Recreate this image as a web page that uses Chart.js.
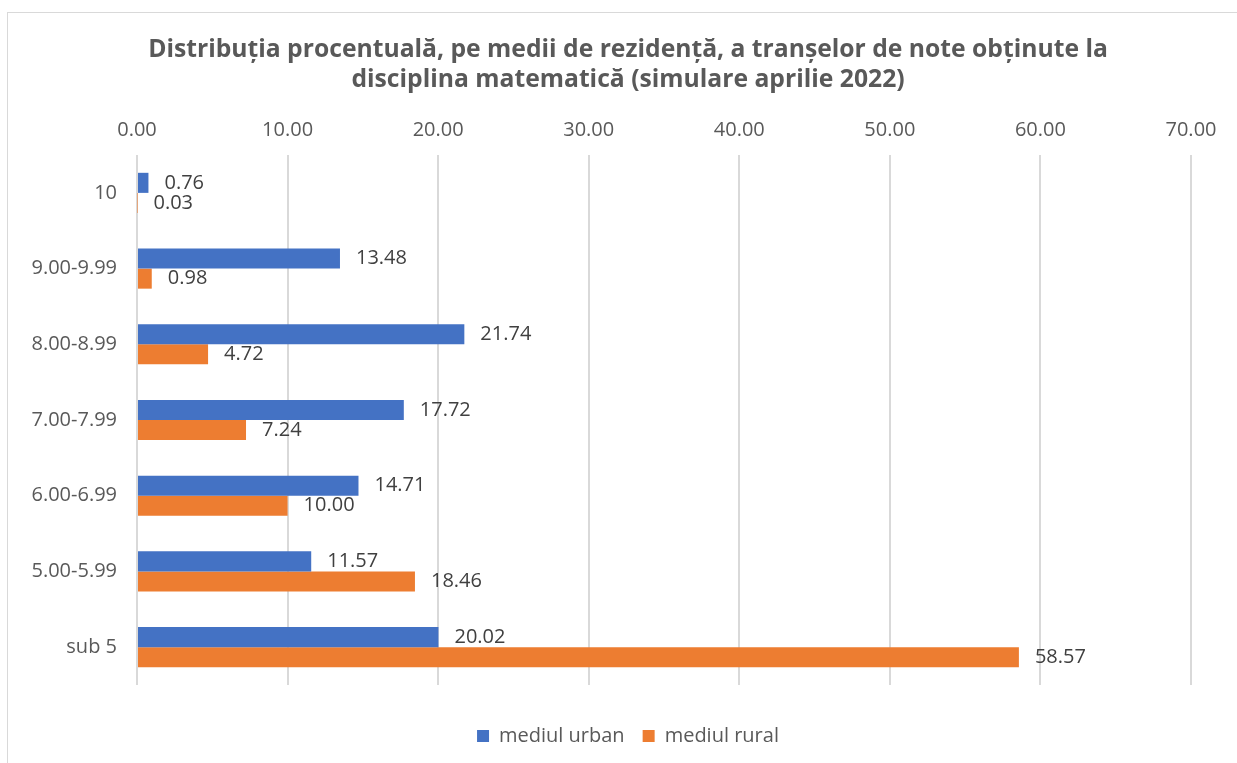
<!DOCTYPE html>
<html>
<head>
<meta charset="utf-8">
<script src="https://cdn.jsdelivr.net/npm/chart.js@4.4.0/dist/chart.umd.min.js"></script>
<style>
  html, body { margin: 0; padding: 0; background: #fff; }
  #frame {
    position: absolute; left: 7px; top: 12px; width: 1300px; height: 800px;
    border-left: 1px solid #d9d9d9; border-top: 1px solid #d9d9d9;
  }
  #wrap { position: absolute; left: 0; top: 0; width: 1237px; height: 763px; }
</style>
</head>
<body>
<div id="frame"></div>
<div id="wrap"><canvas id="gradesChart"></canvas></div>
<script>
  // Data
  const categories = ["10", "9.00-9.99", "8.00-8.99", "7.00-7.99", "6.00-6.99", "5.00-5.99", "sub 5"];
  const urbanValues = [0.76, 13.48, 21.74, 17.72, 14.71, 11.57, 20.02];
  const ruralValues = [0.03, 0.98, 4.72, 7.24, 10.00, 18.46, 58.57];
  const seriesNames = ["mediul urban", "mediul rural"];
  const titleLines = [
    "Distribuția procentuală, pe medii de rezidență, a tranșelor de note obținute la",
    "disciplina matematică (simulare aprilie 2022)"
  ];

  const FONT = "'Open Sans', 'Noto Sans', sans-serif";

  // value labels at the end of each bar + category labels left of the plot
  const barLabels = {
    id: "barLabels",
    afterDatasetsDraw(chart) {
      const ctx = chart.ctx;
      ctx.save();
      ctx.font = "20px " + FONT;
      ctx.textBaseline = "middle";

      ctx.fillStyle = "#404040";
      ctx.textAlign = "left";
      chart.data.datasets.forEach((ds, i) => {
        chart.getDatasetMeta(i).data.forEach((bar, j) => {
          ctx.fillText(ds.data[j].toFixed(2), bar.x + 16, bar.y);
        });
      });

      // category labels (drawn here so they are not clipped to the axis box)
      const yScale = chart.scales.y;
      ctx.fillStyle = "#595959";
      ctx.textAlign = "right";
      chart.data.labels.forEach((label, i) => {
        ctx.fillText(label, chart.chartArea.left - 20, yScale.getPixelForValue(i));
      });
      ctx.restore();
    },
  };

  const ctx = document.getElementById("gradesChart").getContext("2d");
  const gradesChart = new Chart(ctx, {
    type: "bar",
    data: {
      labels: categories,
      datasets: [
        {
          label: seriesNames[0],
          data: urbanValues,
          backgroundColor: "#4472C4",
          categoryPercentage: 0.53,
          barPercentage: 1.0,
        },
        {
          label: seriesNames[1],
          data: ruralValues,
          backgroundColor: "#ED7D31",
          categoryPercentage: 0.53,
          barPercentage: 1.0,
        },
      ],
    },
    options: {
      indexAxis: "y",
      responsive: true,
      maintainAspectRatio: false,
      animation: false,
      layout: { padding: { left: 65, right: 46, top: 0, bottom: 7 } },
      plugins: {
        title: {
          display: true,
          text: titleLines,
          color: "#595959",
          font: { family: FONT, size: 24.7, weight: "bold", lineHeight: 1.215 },
          padding: { top: 35, bottom: 10 },
        },
        legend: {
          position: "bottom",
          labels: {
            color: "#595959",
            font: { family: FONT, size: 20 },
            boxWidth: 12,
            boxHeight: 12,
            padding: 18,
          },
        },
        tooltip: { enabled: false },
      },
      scales: {
        x: {
          position: "top",
          min: 0,
          max: 70,
          grid: { color: "#d9d9d9", lineWidth: 2, drawTicks: false },
          border: { display: false },
          ticks: {
            stepSize: 10,
            color: "#595959",
            font: { family: FONT, size: 20 },
            padding: 13,
            callback: function (value) {
              return value.toFixed(2);
            },
          },
        },
        x2: {
          type: "linear",
          position: "bottom",
          display: true,
          grid: { display: false },
          border: { display: false },
          ticks: { display: false },
          afterFit: function (scale) {
            scale.height = 23;
          },
        },
        y: {
          grid: { display: false },
          border: { display: false },
          ticks: { display: false },
          afterFit: function (scale) {
            scale.width = 72;
          },
        },
      },
    },
    plugins: [barLabels],
  });
</script>
</body>
</html>
